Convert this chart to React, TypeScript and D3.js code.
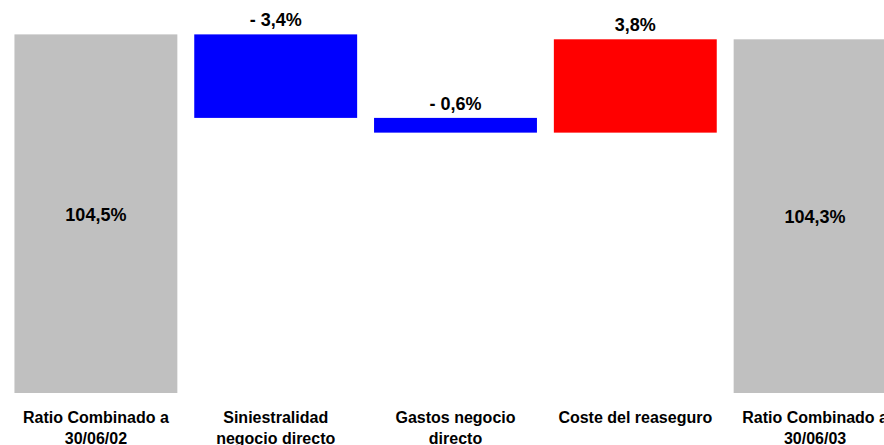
import React from "react";
import * as d3 from "d3";

const categories = [
  "Ratio Combinado a\n30/06/02",
  "Siniestralidad\nnegocio directo",
  "Gastos negocio\ndirecto",
  "Coste del reaseguro",
  "Ratio Combinado a\n30/06/03",
];
const values = [104.5, -3.4, -0.6, 3.8, 104.3];
const kinds = ["total", "delta", "delta", "delta", "total"];
const colors = { total: "#C0C0C0", neg: "#0000FF", pos: "#FF0000" };

const W = 884;
const H = 445;

function fmt(v: number, kind: string) {
  const s = Math.abs(v).toFixed(1).replace(".", ",") + "%";
  if (kind === "total") return s;
  return v < 0 ? "- " + s : s;
}

export default function App() {
  const x = d3
    .scaleBand<string>()
    .domain(categories)
    .range([6, 905])
    .paddingInner(0.094)
    .paddingOuter(0.047);
  const y = d3.scaleLinear().domain([89.9, 105.9]).range([393, 0]);

  let running = 0;
  const bars = categories.map((c, i) => {
    const v = values[i];
    const k = kinds[i];
    let y0: number, y1: number;
    if (k === "total") {
      y0 = y.domain()[0];
      y1 = v;
      running = v;
    } else {
      y0 = running;
      y1 = running + v;
      running = y1;
    }
    const top = Math.max(y0, y1);
    const bot = Math.min(y0, y1);
    const fill = k === "total" ? colors.total : v < 0 ? colors.neg : colors.pos;
    return { c, v, k, top, bot, fill };
  });

  const font = "Arial, 'Liberation Sans', Helvetica, sans-serif";

  return (
    <svg
      width={W}
      height={H}
      style={{ position: "absolute", left: 0, top: 0, background: "#fff" }}
      fontFamily={font}
    >
      {bars.map((b, i) => {
        const bx = x(b.c)!;
        const bw = x.bandwidth();
        const yt = y(b.top);
        const yb = y(b.bot);
        const cx = bx + bw / 2;
        return (
          <g key={i}>
            <rect x={bx} y={yt} width={bw} height={yb - yt} fill={b.fill} />
            {b.k === "total" ? (
              <text
                x={cx}
                y={(yt + yb) / 2 + 7}
                textAnchor="middle"
                fontSize={18}
                fontWeight="bold"
                fill="#000"
              >
                {fmt(b.v, b.k)}
              </text>
            ) : (
              <text
                x={cx}
                y={yt - 8}
                textAnchor="middle"
                fontSize={18}
                fontWeight="bold"
                fill="#000"
              >
                {fmt(b.v, b.k)}
              </text>
            )}
            {b.c.split("\n").map((line, j) => (
              <text
                key={j}
                x={cx}
                y={423 + j * 21}
                textAnchor="middle"
                fontSize={16}
                fontWeight="bold"
                fill="#000"
              >
                {line}
              </text>
            ))}
          </g>
        );
      })}
    </svg>
  );
}
